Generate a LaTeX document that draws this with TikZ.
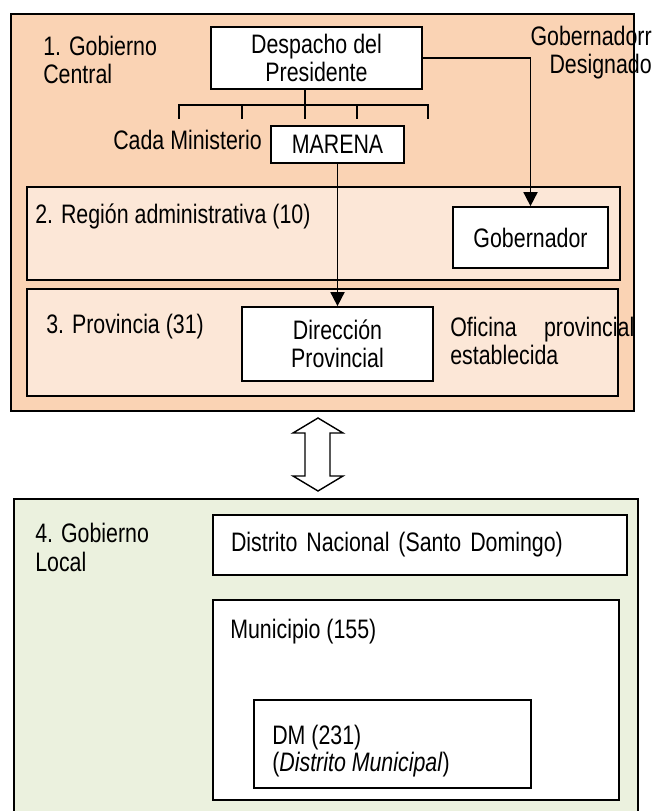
\documentclass[tikz,border=0pt]{standalone}
\usepackage{fontspec}
\setmainfont{Liberation Sans}[FakeStretch=0.80]
\usetikzlibrary{arrows.meta}

\definecolor{central}{RGB}{250,211,180}
\definecolor{tier}{RGB}{252,231,215}
\definecolor{local}{RGB}{235,241,222}

\tikzset{
  every node/.style={font=\fontsize{19}{20}\selectfont},
  area/.style={draw, line width=1.2pt, inner sep=0pt},
  box/.style={draw, fill=white, line width=1.2pt, align=center, inner sep=0pt},
  lbl/.style={inner sep=0pt, align=left},
  link/.style={line width=1.2pt, -{Triangle[width=10pt,length=10pt]}},
}

\begin{document}
\begin{tikzpicture}
\clip (0,0) rectangle (16.325,-20.275);

% gobierno central
\node (A) at (8.0625,-5.3125) [area, fill=central, minimum width=15.575cm, minimum height=9.925cm]{};
\node (A-1) at (8.0875,-5.8375) [area, fill=tier, minimum width=14.825cm, minimum height=2.325cm]{};
\node (A-2) at (8.0625,-8.5625) [area, fill=tier, minimum width=14.775cm, minimum height=2.675cm]{};

\node (A-t) at (1.075,-1.5) [lbl, anchor=west]{1. Gobierno\\Central};
\node (G-t) at (16.3,-1.325) [lbl, anchor=east, align=right]{Gobernadorr\\Designado};
\node (M-t) at (6.55,-3.5) [lbl, anchor=east]{Cada Ministerio};
\node (A-1-t) at (0.875,-5.4) [lbl, anchor=west]{2. Región administrativa (10)};
\node (A-2-t) at (1.15,-8.175) [lbl, anchor=west]{3. Provincia (31)};
\node (O-t) at (11.25,-8.525) [lbl, anchor=west, text width=4.6cm, align=justify]{Oficina provincial establecida};

\node (D) at (7.9125,-1.45) [box, minimum width=5.275cm, minimum height=1.55cm]{Despacho del\\Presidente};
\node (M) at (8.4375,-3.6125) [box, minimum width=3.325cm, minimum height=0.925cm]{MARENA};
\node (G) at (13.2625,-5.9375) [box, minimum width=3.875cm, minimum height=1.525cm]{Gobernador};
\node (P) at (8.4375,-8.6) [box, minimum width=4.775cm, minimum height=1.85cm]{Dirección\\Provincial};

% ministerios
\coordinate (fork) at (7.625,-2.625);
\draw [line width=1.2pt] ([xshift=-0.2875cm]D.south) -- (fork);
\draw [line width=1.2pt] (4.475,-2.975) -- (4.475,-2.625) -- (10.7,-2.625) -- (10.7,-2.975);
\foreach \x in {6.05,7.625,8.925}
  \draw [line width=1.2pt] (\x,-2.625) -- (\x,-2.975);

\draw [link] (D.east) -| (G.north);
\draw [link] (M.south) -- (P.north);

% doble flecha
\draw [line width=1pt, fill=white] (7.95,-10.45) -- (8.575,-10.825) -- (8.25,-10.825) -- (8.25,-11.9) -- (8.575,-11.9) -- (7.95,-12.275) -- (7.325,-11.9) -- (7.625,-11.9) -- (7.625,-10.825) -- (7.325,-10.825) -- cycle;

% gobierno local
\node (B) at (8.15,-16.6125) [area, fill=local, minimum width=15.6cm, minimum height=8.275cm]{};
\node (B-t) at (0.875,-13.6875) [lbl, anchor=west]{4. Gobierno\\Local};

\node (B-1) at (10.5,-13.625) [box, minimum width=10.35cm, minimum height=1.5cm, text width=9.45cm, align=left]{Distrito Nacional (Santo Domingo)};
\node (B-2) at (10.4,-17.5) [box, minimum width=10.15cm, minimum height=5cm]{};
\node (B-2-t) at (5.75,-15.8) [lbl, anchor=west]{Municipio (155)};
\node (B-3) at (9.8125,-18.6) [box, minimum width=6.925cm, minimum height=2.2cm]{};
\node (B-3-t) at (6.8,-18.775) [lbl, anchor=west, font=\fontsize{19}{17}\selectfont]{DM (231)\\(\textit{Distrito Municipal})};

\end{tikzpicture}
\end{document}
